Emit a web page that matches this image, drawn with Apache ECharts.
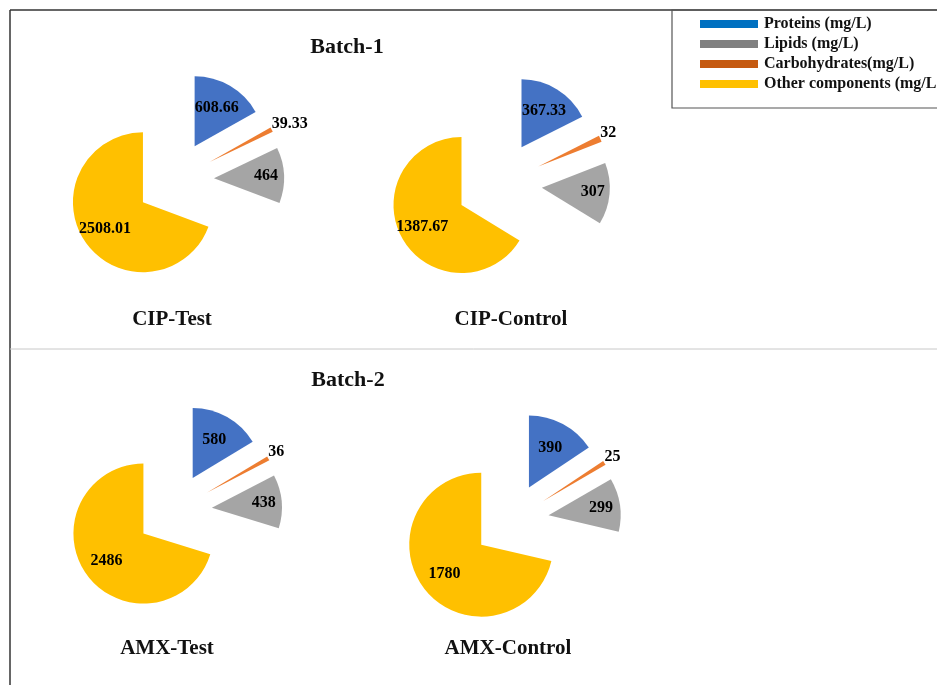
<!DOCTYPE html>
<html>
<head>
<meta charset="utf-8">
<script src="https://cdn.jsdelivr.net/npm/echarts@6/dist/echarts.min.js"></script>
<style>
html,body{margin:0;padding:0;background:#fff;}
#main{width:937px;height:685px;}
</style>
</head>
<body>
<div id="main"></div>
<script>
// Slice order (clockwise from 12 o'clock)
const categories = ['Proteins (mg/L)', 'Carbohydrates(mg/L)', 'Lipids (mg/L)', 'Other components (mg/L)'];
const legendOrder = ['Proteins (mg/L)', 'Lipids (mg/L)', 'Carbohydrates(mg/L)', 'Other components (mg/L)'];
const sliceColors = ['#4472C4', '#ED7D31', '#A5A5A5', '#FFC000'];
const legendColors = {'Proteins (mg/L)':'#0070C0','Lipids (mg/L)':'#808080','Carbohydrates(mg/L)':'#C55A11','Other components (mg/L)':'#FFC000'};

const cipTest    = [608.66, 39.33, 464, 2508.01];
const cipControl = [367.33, 32, 307, 1387.67];
const amxTest    = [580, 36, 438, 2486];
const amxControl = [390, 25, 299, 1780];

const batchTitles = ['Batch-1', 'Batch-2'];
const pieTitles = ['CIP-Test', 'CIP-Control', 'AMX-Test', 'AMX-Control'];

const FONT = '"Liberation Serif", "Times New Roman", serif';
// extra outward push of inside labels (style only)
const labelPush = [6, 0, 14, 8];

function makeData(vals) {
  return vals.map((v, i) => {
    const d = { name: categories[i], value: v, selected: true, itemStyle: { color: sliceColors[i] } };
    if (i === 1) {
      d.label = { position: 'outside' };
      d.labelLine = { show: false, length: 0, length2: 0 };
    }
    return d;
  });
}

function pie(vals, center, radius, offset) {
  return {
    type: 'pie',
    center: center,
    radius: radius,
    startAngle: 90,
    clockwise: true,
    selectedMode: 'multiple',
    selectedOffset: offset,
    avoidLabelOverlap: false,
    emphasis: { scale: false, disabled: true },
    label: {
      show: true,
      position: 'inside',
      formatter: '{c}',
      color: '#000',
      fontFamily: FONT,
      fontWeight: 'bold',
      fontSize: 16
    },
    labelLine: { show: false },
    labelLayout: function (p) {
      if (p.dataIndex === 1) return { dx: -5, dy: -6 };
      const r = p.labelRect;
      const cx = r.x + r.width / 2, cy = r.y + r.height / 2;
      const vx = cx - center[0], vy = cy - center[1];
      const len = Math.sqrt(vx * vx + vy * vy) || 1;
      const k = labelPush[p.dataIndex];
      return { dx: vx / len * k, dy: vy / len * k };
    },
    data: makeData(vals)
  };
}

const chart = echarts.init(document.getElementById('main'), null, { renderer: 'canvas' });

function txt(x, y, s, size) {
  return {
    type: 'text', x: x, y: y, silent: true,
    style: { text: s, fill: '#111', font: 'bold ' + size + 'px ' + FONT, textAlign: 'center', textVerticalAlign: 'middle' }
  };
}

chart.setOption({
  animation: false,
  backgroundColor: '#fff',
  legend: {
    orient: 'vertical',
    left: 695,
    top: 11,
    selectedMode: false,
    icon: 'rect',
    itemWidth: 58,
    itemHeight: 8,
    itemGap: 4,
    textStyle: { fontFamily: FONT, fontWeight: 'bold', fontSize: 16, color: '#111', padding: [0, 0, 0, 1] },
    data: legendOrder.map(n => ({ name: n, itemStyle: { color: legendColors[n] } }))
  },
  graphic: [
    { type: 'line', silent: true, shape: { x1: 10, y1: 10, x2: 937, y2: 10 }, style: { stroke: '#333', lineWidth: 1.5 } },
    { type: 'line', silent: true, shape: { x1: 10, y1: 10, x2: 10, y2: 685 }, style: { stroke: '#333', lineWidth: 1.5 } },
    { type: 'line', silent: true, shape: { x1: 10, y1: 349, x2: 937, y2: 349 }, style: { stroke: '#c8c8c8', lineWidth: 1 } },
    { type: 'rect', silent: true, shape: { x: 672, y: 10, width: 280, height: 98 }, style: { fill: 'none', stroke: '#555', lineWidth: 1.2 } },
    txt(347, 47, batchTitles[0], 22),
    txt(348, 380, batchTitles[1], 22),
    txt(172, 320, pieTitles[0], 21),
    txt(511, 320, pieTitles[1], 21),
    txt(167, 649, pieTitles[2], 21),
    txt(508, 649, pieTitles[3], 21)
  ],
  series: [
    pie(cipTest, [175, 180], 70, 39),
    pie(cipControl, [499, 184], 68, 43),
    pie(amxTest, [174, 511], 70, 38),
    pie(amxControl, [511, 521], 72, 38)
  ]
});
</script>
</body>
</html>
